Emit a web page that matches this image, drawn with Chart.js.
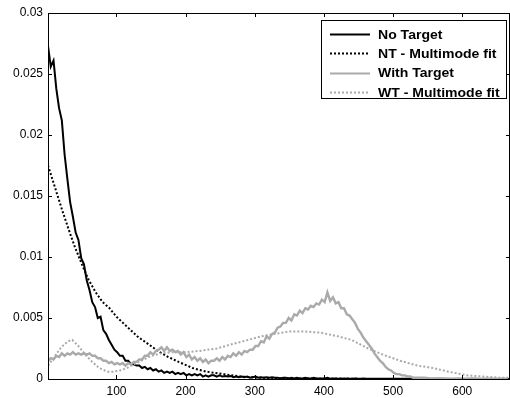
<!DOCTYPE html>
<html>
<head>
<meta charset="utf-8">
<script src="https://cdn.jsdelivr.net/npm/chart.js@4/dist/chart.umd.min.js"></script>
<style>
  html, body { margin: 0; padding: 0; background: #fff; }
  canvas { display: block; }
</style>
</head>
<body>
<canvas id="pdf" width="510" height="398"></canvas>
<script>
// Sample positions of the measured histograms
const sampleX = [
  1, 5, 9, 13, 17, 21, 25, 29, 33, 37,
  41, 45, 49, 53, 57, 61, 65, 69, 73, 77,
  81, 85, 89, 93, 97, 101, 105, 109, 113, 117,
  121, 125, 129, 133, 137, 141, 145, 149, 153, 157,
  161, 165, 169, 173, 177, 181, 185, 189, 193, 197,
  201, 205, 209, 213, 217, 221, 225, 229, 233, 237,
  241, 245, 249, 253, 257, 261, 265, 269, 273, 277,
  281, 285, 289, 293, 297, 301, 305, 309, 313, 317,
  321, 325, 329, 333, 337, 341, 345, 349, 353, 357,
  361, 365, 369, 373, 377, 381, 385, 389, 393, 397,
  401, 405, 409, 413, 417, 421, 425, 429, 433, 437,
  441, 445, 449, 453, 457, 461, 465, 469, 473, 477,
  481, 485, 489, 493, 497, 501, 505, 509, 513, 517,
  521, 525, 529, 533, 537, 541, 545,
  555, 565, 575, 585, 595, 605, 615, 625, 635, 645, 655, 665
];

// Measured density without target
const noTargetY = [
  .0273, .0256, .0261, .0238, .0222, .0212, .0184, .0164, .0145, .0133,
  .0120, .0114, .0099, .0094, .0081, .0073, .0063, .0059, .0050, .0051,
  .0040, .0037, .0032, .0028, .0024, .0022, .0019, .0019, .0015, .0015,
  .0012, .0012, .0011, .0011, .0009, .0010, .0008, .0009, .0007, .0008,
  .0006, .0007, .0005, .0006, .0005, .0006, .0004, .0005, .0004, .0005,
  .0003, .0004, .0003, .0004, .0003, .0004, .0002, .0003, .0002, .0003,
  .0003, .0002, .0003, .0002, .00025, .0002, .00025, .00015, .0002, .00015,
  .0002, .00015, .0002, .0001, .00015, .0002, .0001, .00015, .0001, .00015,
  .0001, .00015, .0001, .0001, .00005, .0001, .0001, .00005, .0001, .00005,
  .0001, .00005, .00005, .0001, .00005, .00005, .0001, .00005, .00005, .00005,
  .00005, .0001, .00003, .00005, .00005, .00003, .00005, .00003, .00005, .00003,
  .00003, .00005, .00002, .00003, .00005, .00002, .00003, .00002, .00003, .00002,
  .00003, .00002, .00002, .00003, .00002, .00002, .00003, .00002, .00002, .00002,
  .00002, .00003, .00002, .00002, .00001, .00002, .00002,
  .00001, .00002, .00001, .00001, .00001, .00001, .00002, .00001, .00001, .00001, .00001, .00001
];

// Measured density with target
const withTargetY = [
  .0015, .0017, .0016, .0019, .0018, .0021, .0019, .0021, .0020, .0022,
  .0020, .0021, .0020, .0021, .0020, .0021, .0019, .0019, .0017, .0017,
  .0015, .0015, .0013, .0014, .0012, .0013, .0012, .0013, .0011, .0013,
  .0012, .0014, .0014, .0016, .0016, .0019, .0019, .0022, .0020, .0023,
  .0024, .0026, .0023, .0026, .0023, .0024, .0022, .0023, .0020, .0022,
  .0018, .0020, .0016, .0018, .0015, .0017, .0014, .0016, .0013, .0015,
  .0015, .0017, .0015, .0018, .0016, .0019, .0018, .0021, .0019, .0022,
  .0020, .0023, .0022, .0024, .0024, .0027, .0027, .0031, .0030, .0035,
  .0033, .0037, .0038, .0042, .0043, .0046, .0046, .0050, .0048, .0053,
  .0052, .0056, .0054, .0058, .0057, .0060, .0059, .0062, .0061, .0065,
  .0063, .0071, .0064, .0067, .0062, .0063, .0058, .0058, .0053, .0052,
  .0049, .0046, .0041, .0038, .0034, .0031, .0028, .0025, .0021, .0018,
  .0015, .0013, .0010, .0008, .0007, .0005, .0004, .0004, .0003, .0003,
  .0002, .0002, .0001, .0001, .0001, .0001, .0001,
  .00005, .00004, .00005, .00003, .00004, .00003, .00003, .00002, .00003, .00002, .00002, .00002
];

// Multimode fit, no target
const ntFitX = [1, 10, 20, 30, 40, 50, 60, 70, 80, 90, 100, 115, 130, 145, 160, 175, 190, 210, 230, 255, 280, 310, 350, 400, 500, 669];
const ntFitY = [.0175, .0159, .0141, .0124, .0108, .0094, .0081, .0071, .0063, .0058, .0051, .0043, .0035, .0029, .0023, .0018, .0014, .0009, .0006, .0004, .0002, .0001, .00005, .00002, 0, 0];

// Multimode fit, with target
const wtFitX = [1, 10, 20, 30, 36, 45, 55, 65, 75, 87, 95, 105, 115, 125, 140, 150, 165, 180, 200, 220, 245, 270, 290, 310, 330, 350, 370, 395, 420, 440, 464, 485, 510, 535, 558, 580, 607, 630, 655, 669];
const wtFitY = [.0011, .0018, .0026, .0031, .0032, .0027, .0020, .0014, .0009, .0006, .0006, .0007, .0009, .0012, .0016, .0019, .0021, .0022, .0022, .0023, .0025, .0029, .0032, .0035, .0037, .0039, .0039, .0038, .0035, .0032, .0025, .0020, .0015, .0011, .0009, .0006, .0003, .0002, .0001, .0001];

const seriesLabels = ['No Target', 'NT - Multimode fit', 'With Target', 'WT - Multimode fit'];
const xTickValues = [100, 200, 300, 400, 500, 600];
const yTickValues = [0, 0.005, 0.01, 0.015, 0.02, 0.025, 0.03];

const pts = (xs, ys) => xs.map((x, i) => ({ x: x, y: ys[i] }));

// Axes box with inward tick marks on all four sides
const boxTicks = {
  id: 'boxTicks',
  afterDatasetsDraw(chart) {
    const { ctx, chartArea: a, scales: { x, y } } = chart;
    const len = 4;
    ctx.save();
    ctx.strokeStyle = '#000';
    ctx.lineWidth = 1;
    ctx.beginPath();
    ctx.rect(Math.round(a.left) + 0.5, Math.round(a.top) + 0.5,
             Math.round(a.right - a.left) - 1, Math.round(a.bottom - a.top));
    xTickValues.forEach(v => {
      const px = Math.round(x.getPixelForValue(v)) + 0.5;
      ctx.moveTo(px, a.bottom); ctx.lineTo(px, a.bottom - len);
      ctx.moveTo(px, a.top); ctx.lineTo(px, a.top + len);
    });
    yTickValues.forEach(v => {
      const py = Math.round(y.getPixelForValue(v)) + 0.5;
      ctx.moveTo(a.left, py); ctx.lineTo(a.left + len, py);
      ctx.moveTo(a.right, py); ctx.lineTo(a.right - len, py);
    });
    ctx.stroke();
    ctx.restore();
  }
};

// Legend box in the upper right corner of the axes
const insetLegend = {
  id: 'insetLegend',
  afterDraw(chart) {
    const { ctx, chartArea: a } = chart;
    const w = 185, h = 78;
    const left = Math.round(a.right - 4 - w), top = Math.round(a.top + 7);
    ctx.save();
    ctx.fillStyle = '#fff';
    ctx.fillRect(left, top, w, h);
    ctx.strokeStyle = '#000';
    ctx.lineWidth = 1;
    ctx.strokeRect(left + 0.5, top + 0.5, w, h);
    ctx.font = 'bold 13px "Liberation Sans", Arial, sans-serif';
    ctx.textBaseline = 'middle';
    ctx.fillStyle = '#000';
    chart.data.datasets.forEach((ds, i) => {
      const yy = top + 14 + i * 19.4;
      ctx.beginPath();
      ctx.strokeStyle = ds.borderColor;
      ctx.lineWidth = 2;
      ctx.setLineDash(ds.borderDash || []);
      ctx.moveTo(left + 9, Math.round(yy) + 0.5);
      ctx.lineTo(left + 49, Math.round(yy) + 0.5);
      ctx.stroke();
      ctx.setLineDash([]);
      // slightly wide lettering
      ctx.save();
      ctx.translate(left + 57, yy + 1);
      ctx.scale(1.08, 1);
      ctx.fillText(ds.label, 0, 0);
      ctx.restore();
    });
    ctx.restore();
  }
};

new Chart(document.getElementById('pdf'), {
  type: 'line',
  data: {
    datasets: [
      { label: seriesLabels[0], data: pts(sampleX, noTargetY), borderColor: '#000000', borderWidth: 2, order: 4 },
      { label: seriesLabels[1], data: pts(ntFitX, ntFitY), borderColor: '#000000', borderWidth: 2, borderDash: [2, 2], order: 3 },
      { label: seriesLabels[2], data: pts(sampleX, withTargetY), borderColor: '#aaaaaa', borderWidth: 2.4, order: 2 },
      { label: seriesLabels[3], data: pts(wtFitX, wtFitY), borderColor: '#aaaaaa', borderWidth: 2, borderDash: [2, 2], order: 1 }
    ]
  },
  options: {
    responsive: false,
    animation: false,
    devicePixelRatio: 1,
    layout: { padding: { top: 13, right: 0, left: 0, bottom: 0 } },
    elements: { point: { radius: 0 }, line: { tension: 0, fill: false } },
    plugins: { legend: { display: false }, tooltip: { enabled: false } },
    scales: {
      x: {
        type: 'linear', min: 1, max: 669,
        grid: { display: false, drawTicks: false },
        border: { display: false },
        afterBuildTicks: s => { s.ticks = xTickValues.map(v => ({ value: v })); },
        afterFit: s => { s.height = 19; },
        ticks: { color: '#000', padding: 5, maxRotation: 0, autoSkip: false,
                 font: { family: '"Liberation Sans", Arial, sans-serif', size: 12 } }
      },
      y: {
        type: 'linear', min: 0, max: 0.03,
        grid: { display: false, drawTicks: false },
        border: { display: false },
        afterBuildTicks: s => { s.ticks = yTickValues.map(v => ({ value: v })); },
        afterFit: s => { s.width = 48; },
        ticks: { color: '#000', padding: 5, autoSkip: false,
                 font: { family: '"Liberation Sans", Arial, sans-serif', size: 12 },
                 callback: v => v === 0 ? '0' : String(+v.toFixed(3)) }
      }
    }
  },
  plugins: [boxTicks, insetLegend]
});
</script>
</body>
</html>
